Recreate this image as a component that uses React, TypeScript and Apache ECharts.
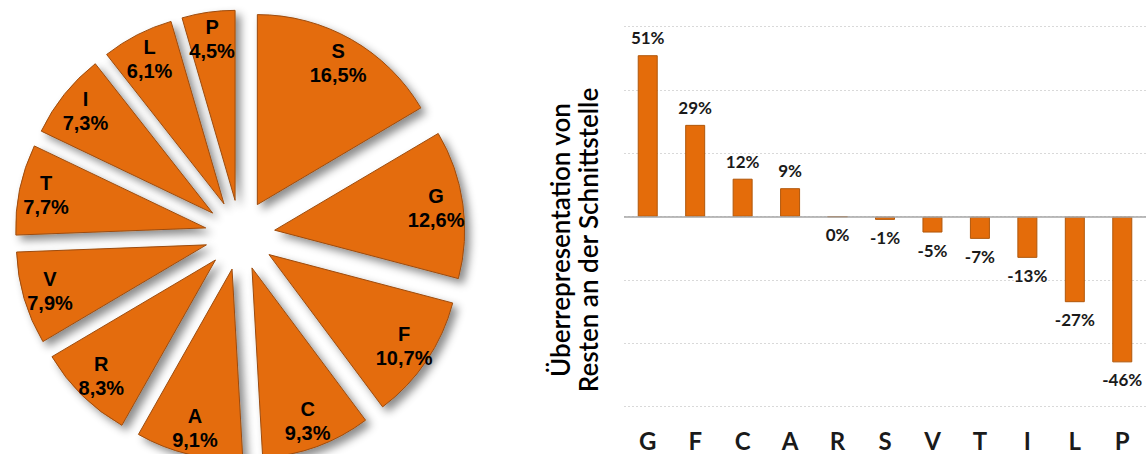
import React, { useEffect, useRef } from 'react';
import * as echarts from 'echarts';

// Share of each residue among interface residues (pie, clockwise from 12 o'clock)
const sliceNames = ['S', 'G', 'F', 'C', 'A', 'R', 'V', 'T', 'I', 'L', 'P'];
const sliceShares = [16.5, 12.6, 10.7, 9.3, 9.1, 8.3, 7.9, 7.7, 7.3, 6.1, 4.5];

// Over-representation at the interface (bar chart)
const barCategories = ['G', 'F', 'C', 'A', 'R', 'S', 'V', 'T', 'I', 'L', 'P'];
const barValues = [51, 29, 12, 9, 0, -1, -5, -7, -13, -27, -46];

const axisTitleLines = ['Überrepresentation von', 'Resten an der Schnittstelle'];

const ORANGE = '#E46C0A';
const EDGE = '#9C4B0B';
const SANS = 'Lato, "Open Sans", sans-serif';
const ARIAL = '"Liberation Sans", Arial, sans-serif';

const PIE_CENTER = [240, 235];
const PIE_OFFSET = 35;

const sliceData = () =>
  sliceNames.map((name, i) => ({ name, value: sliceShares[i], selected: true }));

export default function App() {
  const ref = useRef<HTMLDivElement>(null);

  useEffect(() => {
    if (!ref.current) return;
    const chart = echarts.init(ref.current, undefined, { renderer: 'svg' });

    const sliceStyle = {
      color: ORANGE,
      borderColor: EDGE,
      borderWidth: 1,
      shadowBlur: 8,
      shadowOffsetX: 5,
      shadowOffsetY: 5,
      shadowColor: 'rgba(0,0,0,0.45)',
    };

    chart.setOption({
      animation: false,
      grid: { left: 624, top: 26.7, width: 523.6, height: 380 },
      xAxis: {
        type: 'category',
        data: barCategories,
        axisLine: { show: false, onZero: false },
        axisTick: { show: false },
        axisLabel: {
          margin: 22,
          fontFamily: SANS,
          fontWeight: 'bold',
          fontSize: 24,
          color: '#1a1a1a',
        },
      },
      yAxis: {
        type: 'value',
        min: -60,
        max: 60,
        interval: 20,
        axisLine: { show: false },
        axisTick: { show: false },
        axisLabel: { show: false },
        splitLine: { lineStyle: { type: [2, 2], color: '#d9d9d9', width: 1 } },
      },
      graphic: [
        {
          type: 'text',
          x: 574,
          y: 240,
          rotation: Math.PI / 2,
          style: {
            text: axisTitleLines.join('\n'),
            fontFamily: SANS,
            fontWeight: 600,
            fontSize: 26,
            lineHeight: 28,
            fill: '#000',
            textAlign: 'center',
            textVerticalAlign: 'middle',
          },
        },
      ],
      series: [
        {
          type: 'pie',
          center: PIE_CENTER,
          radius: [0, 190],
          startAngle: 90,
          clockwise: true,
          selectedMode: 'multiple',
          selectedOffset: PIE_OFFSET,
          silent: true,
          label: { show: false },
          labelLine: { show: false },
          itemStyle: sliceStyle,
          select: { itemStyle: sliceStyle },
          emphasis: { disabled: true },
          data: sliceData(),
        },
        {
          // transparent ring that carries the slice labels further out
          type: 'pie',
          center: PIE_CENTER,
          radius: [145, 175],
          startAngle: 90,
          clockwise: true,
          selectedMode: 'multiple',
          selectedOffset: PIE_OFFSET,
          silent: true,
          itemStyle: { color: 'rgba(0,0,0,0)' },
          select: { itemStyle: { color: 'rgba(0,0,0,0)' } },
          emphasis: { disabled: true },
          labelLine: { show: false },
          label: {
            show: true,
            position: 'inside',
            formatter: (p: any) => `${p.name}\n${p.value.toFixed(1).replace('.', ',')}%`,
            fontFamily: ARIAL,
            fontWeight: 'bold',
            fontSize: 20,
            lineHeight: 24,
            color: '#000',
            textBorderWidth: 0,
          },
          data: sliceData(),
        },
        {
          type: 'bar',
          barWidth: 20,
          silent: true,
          itemStyle: { color: ORANGE, borderColor: '#B0570B', borderWidth: 1 },
          label: {
            show: true,
            distance: 9,
            formatter: (p: any) => `${p.value}%`,
            fontFamily: SANS,
            fontWeight: 'bold',
            fontSize: 17,
            color: '#1a1a1a',
          },
          markLine: {
            silent: true,
            symbol: 'none',
            label: { show: false },
            lineStyle: { type: 'solid', color: '#a6a6a6', width: 1.5 },
            data: [{ yAxis: 0 }],
          },
          data: barValues.map((v) => ({
            value: v,
            label: { position: v > 0 ? 'top' : 'bottom' },
          })),
        },
      ],
    });

    return () => chart.dispose();
  }, []);

  return (
    <div
      ref={ref}
      style={{ position: 'fixed', left: 0, top: 0, width: 1146, height: 454, background: '#fff' }}
    />
  );
}
